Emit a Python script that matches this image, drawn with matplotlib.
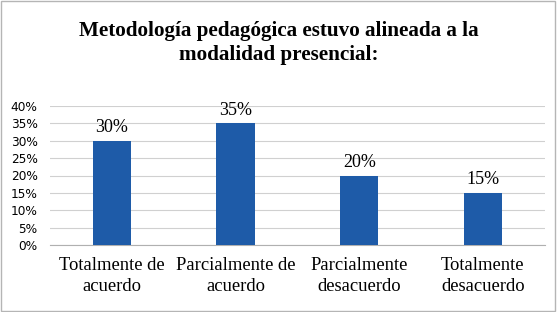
import matplotlib
matplotlib.use("Agg")
import matplotlib.pyplot as plt
from matplotlib.ticker import PercentFormatter
from matplotlib.patches import Rectangle

# data
categories = ["Totalmente de\nacuerdo", "Parcialmente de\nacuerdo",
              "Parcialmente\ndesacuerdo", "Totalmente\ndesacuerdo"]
values = [30, 35, 20, 15]
yticks = [0, 5, 10, 15, 20, 25, 30, 35, 40]
title = "Metodología pedagógica estuvo alineada a la\nmodalidad presencial:"

SERIF = ["Liberation Serif", "DejaVu Serif"]
BLUE = "#1E5BA8"

fig = plt.figure(figsize=(5.57, 3.12), dpi=100)
ax = fig.add_axes([0.09, 0.215, 0.888, 0.445])

x = range(len(categories))
ax.bar(x, values, width=0.31, color=BLUE, zorder=3)
for xi, v in zip(x, values):
    ax.annotate(f"{v}%", (xi, v), xytext=(0, 3.5), textcoords="offset points",
                ha="center", va="bottom", fontsize=13, family=SERIF)

ax.set_xlim(-0.5, len(categories) - 0.5)
ax.set_ylim(0, 40)
ax.set_yticks(yticks)
ax.yaxis.set_major_formatter(PercentFormatter(decimals=0))
ax.set_xticks(list(x))
ax.set_xticklabels(categories, family=SERIF, fontsize=13.4, linespacing=1.25)
ax.tick_params(axis="both", length=0)
ax.tick_params(axis="y", labelsize=8.7, pad=9)
ax.tick_params(axis="x", pad=9)
ax.grid(axis="y", color="#d0d0d0", linewidth=0.8, zorder=0)
for s in ["top", "right", "left"]:
    ax.spines[s].set_visible(False)
ax.spines["bottom"].set_color("#b0b0b0")

fig.text(0.5, 0.862, title, ha="center", va="center", fontsize=15.2,
         fontweight="bold", family=SERIF, linespacing=1.25)

fig.patches.append(Rectangle((0.002, 0.003), 0.995, 0.993, transform=fig.transFigure,
                             fill=False, edgecolor="#b5b5b5", linewidth=1))

fig.savefig("out.png", dpi=100)
